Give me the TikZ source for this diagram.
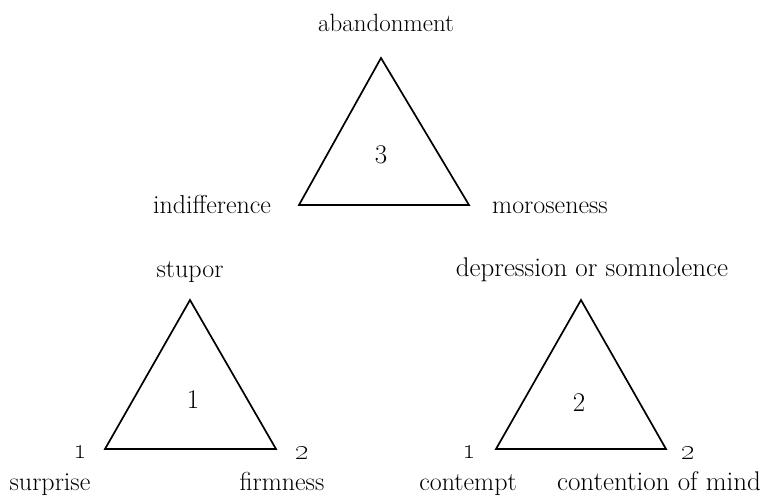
\documentclass[tikz,border=0pt]{standalone}
\begin{document}
\begin{tikzpicture}[x=1pt,y=-1pt,
  lbl/.style={anchor=base,inner sep=0pt,font=\fontsize{26}{30}\selectfont},
  num/.style={anchor=center,inner sep=0pt,font=\fontsize{27}{31}\selectfont},
  cnum/.style={anchor=center,inner sep=0pt,font=\fontsize{32}{36}\selectfont},
  tri/.style={line width=1.7pt,line join=miter}]
\useasboundingbox (0,0) rectangle (766,501);
% top triangle
\coordinate (tA) at (381,58);
\coordinate (tL) at (299,205);
\coordinate (tR) at (469,205);
\draw[tri] (tA) -- (tL) -- (tR) -- cycle;
\node[num] (t3) at (381,155) {3};
\node[lbl,font=\fontsize{25}{29}\selectfont] (abandon) at (386,31) {abandonment};
\node[lbl] (indiff) at (212,213) {indifference};
\node[lbl] (moros) at (550,213) {moroseness};
% bottom left triangle
\coordinate (lA) at (190,300);
\coordinate (lL) at (105,449);
\coordinate (lR) at (276,449);
\draw[tri] (lA) -- (lL) -- (lR) -- cycle;
\node[num] (l1) at (193,400) {1};
\node[lbl] (stupor) at (190,277) {stupor};
\node[cnum] (lc1) at (80,452) {\oldstylenums{1}};
\node[cnum] (lc2) at (302,453) {\oldstylenums{2}};
\node[lbl] (surprise) at (50,490) {surprise};
\node[lbl] (firm) at (282,490) {firmness};
% bottom right triangle
\coordinate (rA) at (581,300);
\coordinate (rL) at (496,449);
\coordinate (rR) at (666,449);
\draw[tri] (rA) -- (rL) -- (rR) -- cycle;
\node[num] (r2) at (579,403) {2};
\node[lbl,font=\fontsize{27}{31}\selectfont] (depr) at (592,276) {depression or somnolence};
\node[cnum] (rc1) at (469,452) {\oldstylenums{1}};
\node[cnum] (rc2) at (688,453) {\oldstylenums{2}};
\node[lbl] (contempt) at (468,490) {contempt};
\node[lbl,font=\fontsize{27}{31}\selectfont] (contention) at (659,490) {contention of mind};
\end{tikzpicture}
\end{document}
